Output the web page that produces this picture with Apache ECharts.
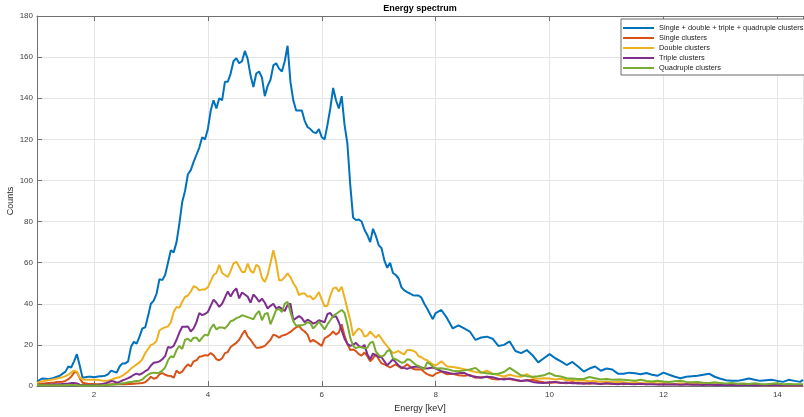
<!DOCTYPE html>
<html><head><meta charset="utf-8">
<script src="https://cdn.jsdelivr.net/npm/echarts@6/dist/echarts.min.js"></script>
<style>html,body{margin:0;padding:0;background:#fff}#c{width:804px;height:417px}</style>
</head><body><div id="c"></div>
<script>
// Energy bins [keV]
const energy = [
1,1.05,1.1,1.15,1.2,1.25,1.3,1.35,1.4,1.45,1.5,1.55,1.6,1.65,1.7,1.75,1.8,1.85,1.9,1.95,
2,2.05,2.1,2.15,2.2,2.25,2.3,2.35,2.4,2.45,2.5,2.55,2.6,2.65,2.7,2.75,2.8,2.85,2.9,2.95,
3,3.05,3.1,3.15,3.2,3.25,3.3,3.35,3.4,3.45,3.5,3.55,3.6,3.65,3.7,3.75,3.8,3.85,3.9,3.95,
4,4.05,4.1,4.15,4.2,4.25,4.3,4.35,4.4,4.45,4.5,4.55,4.6,4.65,4.7,4.75,4.8,4.85,4.9,4.95,
5,5.05,5.1,5.15,5.2,5.25,5.3,5.35,5.4,5.45,5.5,5.55,5.6,5.65,5.7,5.75,5.8,5.85,5.9,5.95,
6,6.05,6.1,6.15,6.2,6.25,6.3,6.35,6.4,6.45,6.5,6.55,6.6,6.65,6.7,6.75,6.8,6.85,6.9,6.95,
7,7.05,7.1,7.15,7.2,7.25,7.3,7.35,7.4,7.45,7.5,7.55,7.6,7.65,7.7,7.75,7.8,7.85,7.9,7.95,
8,
8.1,8.2,8.3,8.4,8.5,8.6,8.7,8.8,8.9,9,
9.1,9.2,9.3,9.4,9.5,9.6,9.7,9.8,9.9,10,
10.1,10.2,10.3,10.4,10.5,10.6,10.7,10.8,10.9,11,
11.1,11.2,11.3,11.4,11.5,11.6,11.7,11.8,11.9,12,
12.1,12.2,12.3,12.4,12.5,12.6,12.7,12.8,12.9,13,
13.1,13.2,13.3,13.4,13.5,13.6,13.7,13.8,13.9,14,
14.1,14.2,14.3,14.4,14.45
];

const totalCounts = [
2,3,3.7,3.5,3.3,3.6,4,4.5,5,6,7,9.5,9,12,15.5,10,4,4.3,4.5,4.5,
4.3,4.5,4.7,4.8,5,5.8,7.5,7,6.5,9.5,11,11,12,19,21.5,20.6,24,28,28.5,34,
40,41.5,45,52,51.5,54,60,66,65,70,79,89.5,95,103,105,109,112.5,116,121,120,
125,134,139,135,140,139,148,148,152,158,159.5,157,158,163,159,151,145.5,152,153,150,
141,146,149,156,157,154.4,153,158,165.5,148,139,134,134,134,129,126,125,123.5,123,125,
121,120,127,135,145,139,135,141,127,118,98,82,80.7,81,80,76,73.5,70,76.5,73,
68.5,67,61,57.5,60,55,54,52.3,48,46.5,45.7,45,44.2,44,44,43,40,37.7,35,32.5,
35.5,
37,33,28,29.5,28,26.5,22.4,23.6,24,23,
19.5,20,21.7,17,16,17.5,15,11.5,13.5,15.5,
13.5,12,10.2,11.7,9.5,7,8.5,9.5,7.4,8.5,
8,6,6,6.5,6.2,5.7,6.3,5.5,5,6.5,
5.5,4.5,3.8,4.5,4.8,5,5.5,6,4.5,3.5,
2.8,2.6,2.5,3,3.6,3,2.5,2.8,3,2.5,
2,3,2.5,2,3
];

const singleCounts = [
1,1.1,1.2,1.3,1.5,1.6,1.7,1.9,2,2.1,2.5,3.3,4.5,6.5,6.8,3.8,1.6,1.3,1.1,1,
1,0.9,0.8,0.8,0.7,0.7,0.8,0.8,0.9,0.8,0.8,0.9,1,1,1.1,1.2,1.3,1.5,1.8,3,
4.5,3.5,4,5.7,6.3,5.5,5,4.9,4,7.5,6.2,7,9,10.5,9.5,12,12.5,14.2,14.5,15,
14.8,16,15,13,12.5,13.5,16,16.5,19,20,21,22.5,25,27,24,22.5,20.5,18.6,18.6,19,
19.5,21,22.5,25,24.5,23.5,24.5,24.8,25.5,26.3,27.5,28.5,29.3,27.5,26.5,25,21.5,22.4,21.5,20.5,
19.5,23.2,24,25,26.5,25,26,30,24.5,20.5,17.5,17.8,17,15.5,14.8,16.3,14.5,12,13.5,15.5,
13,11,10.5,9.8,9,9.8,10.5,9.5,8.6,9.5,10.5,9.5,8.4,8,8.2,8,6.8,5.8,5.2,4.9,
6,
7,5.7,6,5.2,5,5.4,4,4.3,4.5,3.4,
3.2,3.6,3.4,2.8,2.4,2.8,3,2.3,1.8,1.5,
1.8,1.6,1.3,1.9,1.2,1.5,1.1,1.4,1,1.3,
1,1.3,0.9,1.2,1,1.1,0.8,1.2,0.9,1,
0.8,1,0.7,0.9,1,0.8,0.6,0.9,0.7,0.8,
0.6,0.8,0.5,0.7,0.6,0.5,0.6,0.5,0.4,0.6,
0.4,0.5,0.4,0.3,0.4
];

const doubleCounts = [
1.6,2,2.3,2.6,2.8,3,3.3,3.6,4,4.3,4.8,5.5,6.5,7.5,7,4.2,3.2,3,3,3,
3,3,2.8,2.6,2.5,2.6,3,3.5,4,4.3,5,6,7,8.5,9.5,10.5,11.5,13,16,18,
20,20.5,22,27,28,28.5,29,31,36,38.5,38,41,43.4,44,46,48.5,48,46.5,47,47,
48,51,54,55,59,55,54,53,56,59.6,60.4,58,55.5,55.5,59.6,56,55,59,58,52.5,
50.7,54,60,66,60,51.5,51.5,53,54.8,53,50,48,44.2,45,45,43.5,43.7,42,43.5,45.7,
42,38.8,39,44,47.5,48,46,48.3,43,37.5,32,24.5,26.5,28,27,24,24.5,26.5,25,23.5,
25,23,21,19.4,17.5,16,16.5,17,16,15.4,17.5,17.5,17.2,16.5,14.5,14,13,12.5,11.5,10.5,
10,
12,9.5,9.2,8.8,8.2,7.5,6.8,6.5,7.5,6,
5.3,4.6,5.5,4.8,4.5,5.8,4,3.5,3.8,3.6,
3.2,3.5,2.8,3,2.5,2.8,2.2,2.5,2,2.2,
1.8,2,1.8,1.5,1.8,1.5,1.3,1.6,1.2,1.4,
1.2,1,1.3,1,0.8,1,0.9,0.7,0.9,0.6,
0.8,0.6,0.5,0.7,0.5,0.6,0.4,0.5,0.4,0.5,
0.3,0.4,0.3,0.4,0.3
];

const tripleCounts = [
0.5,0.5,0.6,0.6,0.7,0.7,0.8,0.8,0.9,1,1.1,1.2,1.4,1.5,1.2,0.6,0.5,0.5,0.5,0.5,
0.5,0.5,0.7,1,1.3,1.8,2.4,2.2,1.6,2,2.7,3.2,3.8,4.5,5.5,6,5.5,6.2,7.2,8,
10,11.3,11.5,12,13,14.5,19,18.6,19.5,22.5,26,28.8,28.8,29,26.5,28,31,35.5,34.5,35,
36,39,42,40.5,38.5,40,43,46,43.5,46,47.5,42.6,45.5,44.5,43.4,40.5,44.5,43,41,42.5,
40.5,37.7,39,40,37.7,38.5,37.5,36.5,39.5,40,32,33,34,33,31,32.3,31.5,30.3,31,32,
31.5,31,35,35.5,33.5,34,31,27,23,20.5,19.5,20,21,19.5,18.8,20,15.5,13,15.8,14.8,
14.2,14,12,10,11.5,13,11.5,10,9,8.7,8.4,8.8,9.3,9.4,9.4,9,8.6,8.5,8.8,9,
8.5,
7.2,6.6,5.9,6.2,6.4,5,4.5,4,4.5,4.3,
3.5,3.2,3.6,3,2.4,2.8,2,1.6,1.4,1.8,
2,1.5,1.7,1.3,1.5,1.1,1.4,1.2,1,1.3,
1.1,0.9,1.2,1,0.8,1.1,0.8,0.9,0.7,0.9,
0.7,0.8,0.6,0.8,0.6,0.7,0.5,0.7,0.5,0.6,
0.5,0.6,0.4,0.5,0.5,0.4,0.5,0.4,0.5,0.4,
0.3,0.4,0.3,0.4,0.3
];

const quadrupleCounts = [
0.5,0.4,0.4,0.4,0.4,0.4,0.4,0.4,0.4,0.4,0.4,0.5,0.5,0.5,0.4,0.3,0.3,0.3,0.3,0.3,
0.3,0.3,0.3,0.4,0.5,0.5,0.6,0.7,0.8,1,1.3,1.5,1.8,2,2.2,2.4,2.6,3.2,4.5,5.5,
6.2,6.5,6.3,6.5,7.5,9,12.5,14.5,14,17.5,19.5,18,22.5,23,21.7,23.5,23.5,21.7,23.5,25,
24.5,28,30,27.5,28.5,28.5,28,29.5,31.5,32,33,33.5,34.4,34,33.5,33,32.5,35,36.5,32,
35,35.5,30,33.5,37,37.5,36,40,41,36,31.5,29.3,29.5,29.5,30,31,30.5,28,29.5,31.3,
29.5,27.5,30,32,34,35,36,37,35.5,30,23.5,19.5,18.4,19,18.8,18.4,18.6,21,21.5,16.8,
15,14.3,15,17,17.5,13.4,13,12.2,11.3,11.5,13,12.8,11.5,10.3,9.8,9,8.2,11.5,10.8,9.5,
8.5,
8.6,8.2,7.4,7.2,7.6,8,8.8,6.6,6.2,5.8,
6,6.8,8.8,7,5.2,4.8,4.5,4.7,5.2,6.3,
5,4.6,3.8,3.6,3.4,3.4,4.4,3.8,3.2,3.4,
3,3.2,3,2.8,2.6,3,2.4,2.2,2.5,2.2,
2,2.3,2.6,2,1.8,2,1.6,1.5,1.8,1.4,
1.2,1.5,1.1,1.2,1,1.3,1,0.8,1.1,1.3,
0.9,1,0.8,0.9,0.8
];

const seriesNames = [
  'Single + double + triple + quadruple clusters',
  'Single clusters',
  'Double clusters',
  'Triple clusters',
  'Quadruple clusters'
];
const seriesColors = ['#0072BD', '#D95319', '#EDB120', '#7E2F8E', '#77AC30'];
const seriesValues = [totalCounts, singleCounts, doubleCounts, tripleCounts, quadrupleCounts];

seriesValues.forEach((arr, i) => {
  if (arr.length !== energy.length) throw new Error('length mismatch in series ' + i + ': ' + arr.length + ' vs ' + energy.length);
});

const FONT = '"Liberation Sans", Arial, Helvetica, sans-serif';
const axisGray = '#707070';
const gridGray = '#e5e5e5';

const chart = echarts.init(document.getElementById('c'), null, {renderer: 'canvas'});
chart.setOption({
  animation: false,
  backgroundColor: '#fff',
  textStyle: {fontFamily: FONT},
  grid: {left: 37, right: 1, top: 16, bottom: 31, containLabel: false, outerBoundsMode: 'none'},
  legend: {
    orient: 'vertical',
    left: 621, top: 19,
    padding: [4, 3, 2, 2],
    itemGap: 0,
    itemWidth: 31, itemHeight: 2,
    itemTextGap: 3,
    icon: 'rect',
    backgroundColor: '#fff',
    borderColor: '#6a6a6a', borderWidth: 1, borderRadius: 0,
    textStyle: {fontSize: 7.4, color: '#1a1a1a', fontFamily: FONT, lineHeight: 10},
    data: seriesNames
  },
  xAxis: [{
    type: 'value', min: 1, max: 14.45, splitNumber: 7,
    name: 'Energy [keV]', nameLocation: 'middle', nameGap: 18, nameMoveOverlap: false,
    nameTextStyle: {fontSize: 9, color: '#262626', fontFamily: FONT},
    axisLine: {show: true, lineStyle: {color: axisGray, width: 1}},
    axisTick: {show: true, inside: true, length: 5, lineStyle: {color: axisGray}},
    axisLabel: {fontSize: 8, color: '#404040', margin: 5, showMinLabel: false, showMaxLabel: false, fontFamily: FONT},
    splitLine: {show: true, lineStyle: {color: gridGray, width: 1}}
  }, {
    type: 'value', min: 1, max: 14.45, splitNumber: 7, position: 'top',
    name: 'Energy spectrum', nameLocation: 'middle', nameGap: 3, nameMoveOverlap: false,
    nameTextStyle: {fontSize: 9, fontWeight: 'bold', color: '#000', fontFamily: FONT, verticalAlign: 'bottom'},
    axisLine: {show: true, lineStyle: {color: axisGray, width: 1}},
    axisTick: {show: true, inside: true, length: 5, lineStyle: {color: axisGray}},
    axisLabel: {show: false},
    splitLine: {show: false}
  }],
  yAxis: [{
    type: 'value', min: 0, max: 180, interval: 20,
    name: 'Counts', nameLocation: 'middle', nameGap: 22, nameMoveOverlap: false,
    nameTextStyle: {fontSize: 9, color: '#262626', fontFamily: FONT},
    axisLine: {show: true, lineStyle: {color: axisGray, width: 1}},
    axisTick: {show: true, inside: true, length: 5, lineStyle: {color: axisGray}},
    axisLabel: {fontSize: 8, color: '#404040', margin: 4, fontFamily: FONT},
    splitLine: {show: true, lineStyle: {color: gridGray, width: 1}}
  }],
  series: seriesNames.map((name, i) => ({
    name: name,
    type: 'line',
    xAxisIndex: 0,
    yAxisIndex: 0,
    showSymbol: false,
    symbol: 'none',
    color: seriesColors[i],
    lineStyle: {width: 2, color: seriesColors[i]},
    data: energy.map((e, k) => [e, seriesValues[i][k]]),
    z: 2 + i
  }))
});
</script>
</body></html>
